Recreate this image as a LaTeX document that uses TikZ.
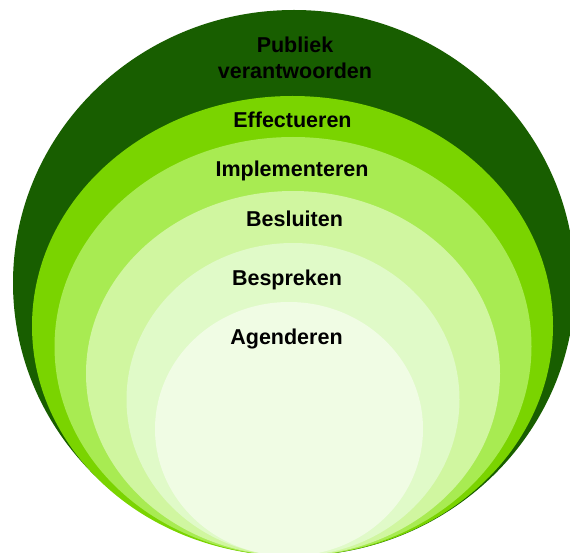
\documentclass[tikz,border=0pt]{standalone}
\usepackage{fontspec}
\setmainfont{Liberation Sans}
\usetikzlibrary{positioning}

\definecolor{laag1}{RGB}{24,94,0}
\definecolor{laag2}{RGB}{122,212,0}
\definecolor{laag3}{RGB}{168,235,82}
\definecolor{laag4}{RGB}{208,246,160}
\definecolor{laag5}{RGB}{224,250,200}
\definecolor{laag6}{RGB}{240,252,228}

\tikzset{
  tekst/.style={font=\bfseries\fontsize{21.5pt}{26pt}\selectfont, text=black, inner sep=0pt, anchor=base, align=center}
}

\begin{document}
\begin{tikzpicture}[x=1pt, y=-1pt]
			\useasboundingbox (0,0) rectangle (570,553);
			\clip (0,0) rectangle (570,553);
			
			% schillen, van buiten naar binnen
			\fill[laag1] (294,283) ellipse [x radius=281pt, y radius=273pt];
			\fill[laag2] (292.5,326) ellipse [x radius=260.5pt, y radius=230pt];
			\fill[laag3] (293,346.5) ellipse [x radius=238.5pt, y radius=209.5pt];
			\fill[laag4] (293,373.5) ellipse [x radius=207pt, y radius=182.5pt];
			\fill[laag5] (293,399.5) ellipse [x radius=166.5pt, y radius=156.5pt];
			\fill[laag6] (289,429) ellipse [x radius=134pt, y radius=127pt];
			
			% teksten
			\node[tekst] (publiek) at (295,79) {Publiek\\verantwoorden};
			\node[tekst] (effect) at (292.5,128) {Effectueren};
			\node[tekst] (impl) at (292,177) {Implementeren};
			\node[tekst] (besluit) at (294.5,227) {Besluiten};
			\node[tekst] (bespreek) at (287,286) {Bespreken};
			\node[tekst] (agenda) at (286.5,344) {Agenderen};
		\end{tikzpicture}
\end{document}
